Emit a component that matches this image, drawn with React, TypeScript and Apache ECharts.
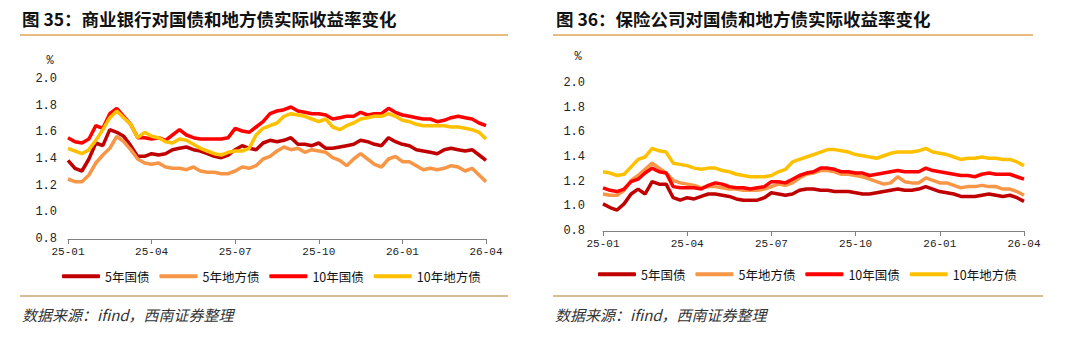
import React, { useEffect, useRef } from "react";
import * as echarts from "echarts";

const monthLabels = ["25-01","25-02","25-03","25-04","25-05","25-06","25-07","25-08","25-09","25-10","25-11","25-12","26-01","26-02","26-03"];
const weeks: string[] = [];
monthLabels.forEach((m) => { for (let w = 1; w <= 4; w++) weeks.push(`${m}-w${w}`); });
weeks.push("26-04-w1");

const seriesNames = ["5年国债", "5年地方债", "10年国债", "10年地方债"];
const seriesColors = ["#C00000", "#F79646", "#FF0000", "#FFC000"];

// 图35 商业银行
const bank5yGov = [1.39,1.33,1.31,1.40,1.52,1.50,1.62,1.60,1.57,1.50,1.42,1.42,1.44,1.43,1.44,1.47,1.48,1.49,1.47,1.46,1.44,1.42,1.41,1.43,1.47,1.50,1.48,1.47,1.52,1.54,1.53,1.54,1.56,1.51,1.51,1.50,1.52,1.48,1.48,1.49,1.50,1.51,1.54,1.53,1.51,1.50,1.56,1.53,1.51,1.50,1.47,1.46,1.45,1.44,1.47,1.48,1.47,1.46,1.47,1.43,1.39];
const bank5yLocal = [1.25,1.23,1.23,1.28,1.37,1.43,1.48,1.57,1.53,1.47,1.40,1.37,1.36,1.37,1.34,1.33,1.33,1.32,1.34,1.31,1.30,1.30,1.29,1.29,1.31,1.34,1.33,1.35,1.40,1.42,1.46,1.49,1.47,1.48,1.45,1.47,1.46,1.45,1.41,1.39,1.35,1.40,1.44,1.40,1.36,1.34,1.40,1.42,1.38,1.38,1.35,1.32,1.33,1.32,1.33,1.35,1.34,1.31,1.33,1.28,1.23];
const bank10yGov = [1.56,1.53,1.52,1.55,1.65,1.63,1.74,1.78,1.72,1.66,1.56,1.56,1.55,1.56,1.54,1.58,1.62,1.58,1.56,1.55,1.55,1.55,1.55,1.56,1.63,1.61,1.60,1.64,1.68,1.74,1.76,1.77,1.79,1.76,1.75,1.74,1.74,1.73,1.70,1.71,1.72,1.72,1.75,1.73,1.74,1.74,1.78,1.75,1.73,1.72,1.71,1.70,1.70,1.68,1.69,1.71,1.72,1.71,1.70,1.67,1.65];
const bank10yLocal = [1.48,1.46,1.44,1.47,1.54,1.62,1.71,1.76,1.71,1.66,1.56,1.60,1.57,1.56,1.53,1.52,1.55,1.54,1.51,1.48,1.46,1.44,1.43,1.45,1.46,1.46,1.48,1.58,1.63,1.65,1.67,1.72,1.74,1.73,1.72,1.70,1.68,1.70,1.64,1.62,1.65,1.67,1.70,1.71,1.72,1.72,1.74,1.72,1.69,1.68,1.66,1.65,1.65,1.65,1.65,1.64,1.64,1.63,1.62,1.60,1.55];

// 图36 保险公司
const ins5yGov = [1.02,0.99,0.97,1.02,1.10,1.14,1.10,1.20,1.18,1.18,1.07,1.05,1.07,1.06,1.08,1.10,1.10,1.09,1.08,1.06,1.05,1.05,1.05,1.07,1.11,1.10,1.09,1.10,1.13,1.14,1.14,1.13,1.13,1.12,1.12,1.12,1.11,1.10,1.10,1.11,1.12,1.13,1.14,1.13,1.13,1.14,1.16,1.14,1.12,1.11,1.10,1.08,1.08,1.08,1.09,1.10,1.09,1.08,1.09,1.07,1.04];
const ins5yLocal = [1.10,1.09,1.09,1.13,1.21,1.25,1.30,1.35,1.31,1.27,1.21,1.19,1.18,1.17,1.15,1.16,1.16,1.15,1.14,1.14,1.13,1.13,1.13,1.14,1.16,1.18,1.17,1.19,1.23,1.26,1.27,1.29,1.29,1.28,1.26,1.26,1.25,1.24,1.22,1.20,1.18,1.19,1.24,1.20,1.19,1.19,1.23,1.21,1.19,1.19,1.17,1.15,1.16,1.16,1.17,1.16,1.16,1.14,1.14,1.12,1.09];
const ins10yGov = [1.15,1.13,1.12,1.14,1.20,1.22,1.27,1.31,1.28,1.27,1.16,1.15,1.15,1.15,1.14,1.17,1.19,1.18,1.16,1.15,1.15,1.14,1.15,1.16,1.20,1.20,1.19,1.22,1.25,1.27,1.28,1.31,1.31,1.30,1.28,1.28,1.27,1.27,1.25,1.26,1.27,1.28,1.29,1.28,1.28,1.28,1.31,1.29,1.28,1.27,1.26,1.25,1.25,1.24,1.26,1.27,1.26,1.26,1.26,1.24,1.22];
const ins10yLocal = [1.28,1.27,1.25,1.26,1.32,1.38,1.40,1.47,1.45,1.44,1.35,1.34,1.33,1.31,1.30,1.31,1.31,1.29,1.28,1.26,1.25,1.24,1.24,1.24,1.25,1.28,1.30,1.36,1.38,1.40,1.42,1.44,1.46,1.46,1.45,1.44,1.42,1.41,1.40,1.39,1.41,1.43,1.44,1.44,1.44,1.45,1.47,1.44,1.43,1.42,1.40,1.38,1.39,1.39,1.40,1.39,1.39,1.38,1.38,1.36,1.33];

const bankData = [bank5yGov, bank5yLocal, bank10yGov, bank10yLocal];
const insData = [ins5yGov, ins5yLocal, ins10yGov, ins10yLocal];

const mono = "Liberation Mono";
const cjk = "Noto Sans CJK SC";

function makeAxes(gridIndex: number, labelMargin: number) {
  const x = {
    type: "category",
    gridIndex,
    data: weeks,
    boundaryGap: false,
    axisLine: { lineStyle: { color: "#808080", width: 1 } },
    axisTick: { length: 5, interval: (i: number) => i % 12 === 0, lineStyle: { color: "#808080" } },
    axisLabel: {
      interval: (i: number) => i % 12 === 0,
      formatter: (v: string) => v.slice(0, 5),
      fontFamily: mono, fontSize: 11, color: "#222", margin: 7,
    },
    splitLine: { show: false },
  };
  const y = {
    type: "value",
    gridIndex,
    min: 0.8, max: 2.0, interval: 0.2,
    axisLine: { show: false },
    axisTick: { show: false },
    splitLine: { show: false },
    axisLabel: {
      formatter: (v: number) => v.toFixed(1),
      fontFamily: mono, fontSize: 12, color: "#222", margin: labelMargin,
    },
  };
  return { x, y };
}

export default function App() {
  const ref = useRef<HTMLDivElement>(null);
  useEffect(() => {
    if (!ref.current) return;
    const chart = echarts.init(ref.current, null, { renderer: "svg" });
    const a0 = makeAxes(0, 11);
    const a1 = makeAxes(1, 18);
    const series: any[] = [];
    [bankData, insData].forEach((set, gi) => {
      set.forEach((vals, k) => {
        series.push({
          name: seriesNames[k],
          type: "line",
          xAxisIndex: gi, yAxisIndex: gi,
          data: vals,
          showSymbol: false,
          symbol: "none",
          lineStyle: { width: 3.5, color: seriesColors[k] },
          itemStyle: { color: seriesColors[k] },
          z: 2 + k,
        });
      });
    });
    const legendBase = {
      data: seriesNames,
      icon: "roundRect",
      itemWidth: 38, itemHeight: 4, itemGap: 10,
      selectedMode: false,
      textStyle: { fontFamily: cjk, fontSize: 12.5, color: "#111" },
    };
    const titleFont = `bold 17.5px "${cjk}"`;
    const srcFont = `italic 15px "${cjk}"`;
    chart.setOption({
      animation: false,
      backgroundColor: "#ffffff",
      grid: [
        { left: 68, top: 79, width: 418, height: 160 },
        { left: 603, top: 83, width: 421, height: 148 },
      ],
      xAxis: [a0.x, a1.x],
      yAxis: [a0.y, a1.y],
      legend: [
        { ...legendBase, left: 57, top: 265 },
        { ...legendBase, left: 593, top: 263 },
      ],
      graphic: [
        { type: "text", x: 22, y: 18, style: { text: "图 35：商业银行对国债和地方债实际收益率变化", font: titleFont, fill: "#111", verticalAlign: "middle" } },
        { type: "text", x: 556, y: 18, style: { text: "图 36：保险公司对国债和地方债实际收益率变化", font: titleFont, fill: "#111", verticalAlign: "middle" } },
        { type: "line", shape: { x1: 20, y1: 35, x2: 508, y2: 35 }, style: { stroke: "#E0A55A", lineWidth: 1.5 } },
        { type: "line", shape: { x1: 553, y1: 35, x2: 1033, y2: 35 }, style: { stroke: "#E0A55A", lineWidth: 1.5 } },
        { type: "line", shape: { x1: 20, y1: 296, x2: 508, y2: 296 }, style: { stroke: "#C9A66B", lineWidth: 1.5 } },
        { type: "line", shape: { x1: 553, y1: 296, x2: 1043, y2: 296 }, style: { stroke: "#C9A66B", lineWidth: 1.5 } },
        { type: "text", x: 50, y: 61, style: { text: "%", font: `12px "${mono}"`, fill: "#222", align: "center", verticalAlign: "middle" } },
        { type: "text", x: 578, y: 57, style: { text: "%", font: `12px "${mono}"`, fill: "#222", align: "center", verticalAlign: "middle" } },
        { type: "text", x: 22, y: 314, style: { text: "数据来源：ifind，西南证券整理", font: srcFont, fill: "#333", verticalAlign: "middle" } },
        { type: "text", x: 555, y: 314, style: { text: "数据来源：ifind，西南证券整理", font: srcFont, fill: "#333", verticalAlign: "middle" } },
      ],
      series,
    });
    return () => chart.dispose();
  }, []);
  return <div ref={ref} style={{ position: "absolute", left: 0, top: 0, width: 1080, height: 337 }} />;
}
